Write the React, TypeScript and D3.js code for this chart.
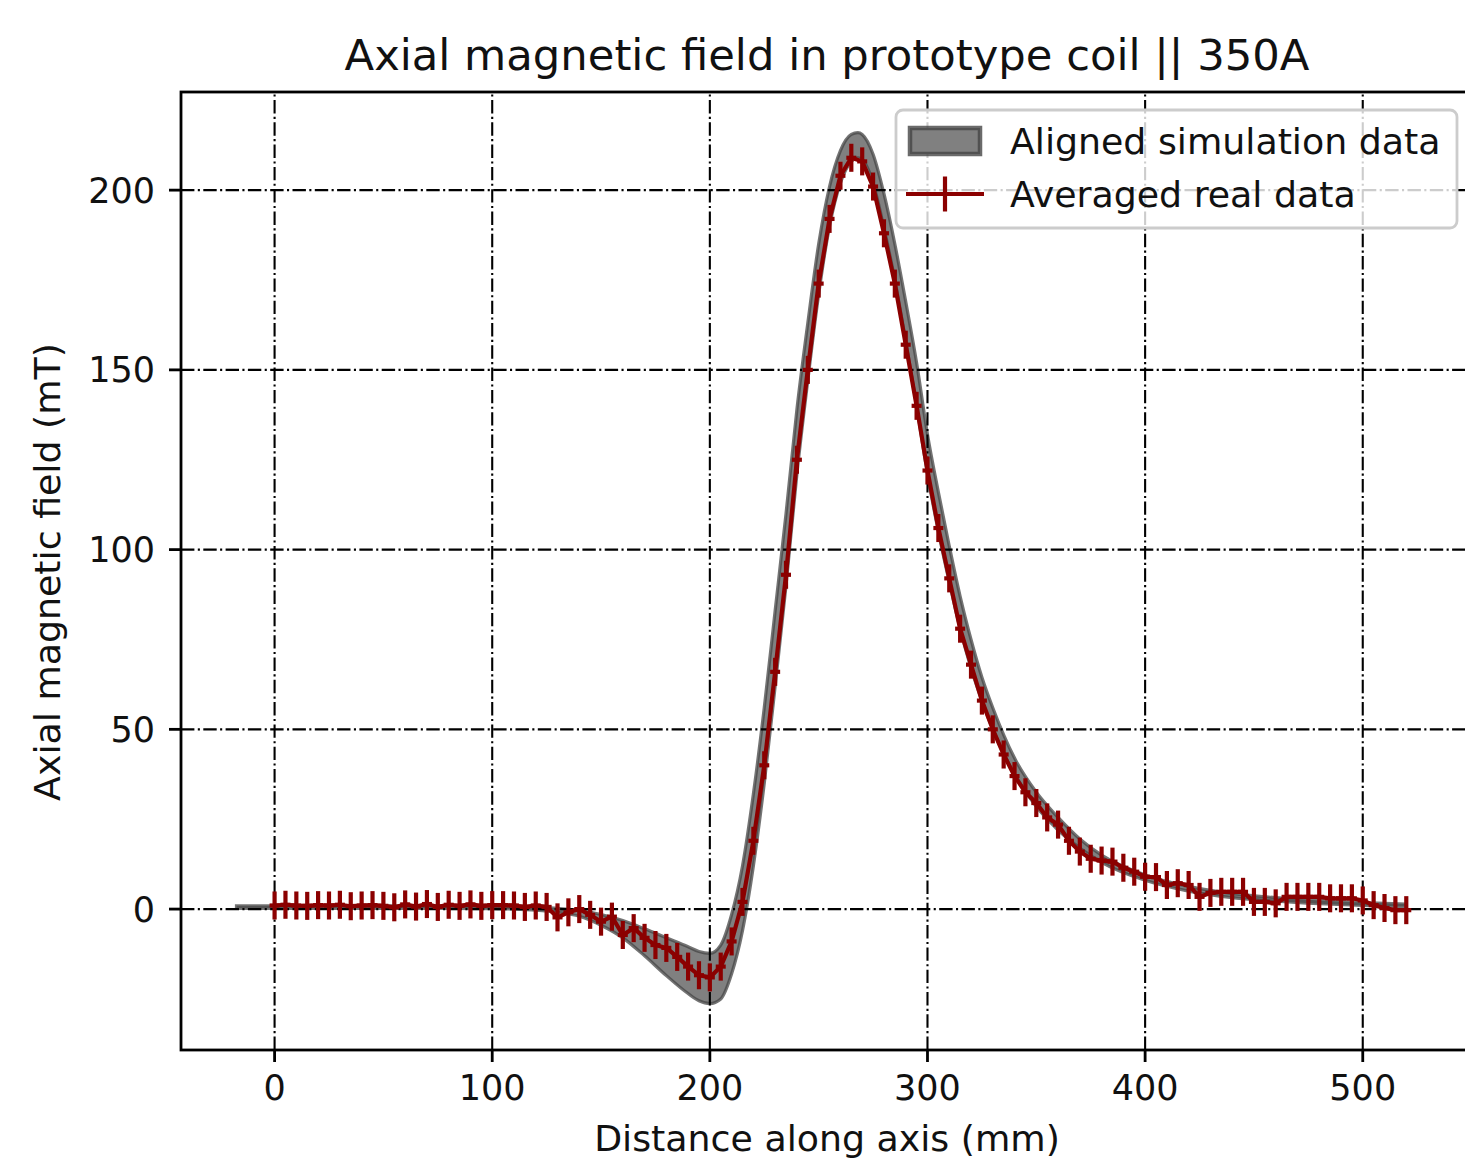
import * as d3 from "d3";

// averaged measurement, one point every 5 mm
const realX = [
  0, 5, 10, 15, 20, 25, 30, 35, 40, 45, 50, 55, 60, 65, 70, 75, 80, 85, 90, 95,
  100, 105, 110, 115, 120, 125, 130, 135, 140, 145, 150, 155, 160, 165, 170, 175, 180, 185, 190, 195,
  200, 205, 210, 215, 220, 225, 230, 235, 240, 245, 250, 255, 260, 265, 270, 275, 280, 285, 290, 295,
  300, 305, 310, 315, 320, 325, 330, 335, 340, 345, 350, 355, 360, 365, 370, 375, 380, 385, 390, 395,
  400, 405, 410, 415, 420, 425, 430, 435, 440, 445, 450, 455, 460, 465, 470, 475, 480, 485, 490, 495,
  500, 505, 510, 515, 520,
];
const realY = [
  1.0, 1.2, 1.0, 0.9, 1.1, 1.0, 1.2, 0.8, 1.0, 1.1, 0.9, 0.5, 1.3, 0.7, 1.4, 0.6, 1.2, 0.9, 1.3, 0.9,
  1.1, 1.1, 1.0, 0.6, 1.0, 0.6, -2.3, -0.9, 0.0, -1.6, -3.5, -2.1, -7.2, -5.3, -8.0, -10.0, -10.8, -13.3, -16.0, -18.4,
  -19.0, -16.0, -9.0, 2.0, 19.0, 40.0, 66.0, 93.0, 125.0, 150.0, 174.0, 192.0, 204.0, 209.0, 208.0, 201.0, 188.0, 174.0, 157.0, 140.0,
  122.0, 106.0, 92.0, 78.0, 68.0, 58.0, 50.0, 43.0, 37.0, 32.5, 29.5, 25.5, 23.5, 19.0, 16.0, 14.0, 13.5, 13.2, 11.5, 10.4,
  9.0, 8.9, 6.7, 7.2, 6.7, 3.4, 4.5, 4.8, 4.8, 4.8, 2.0, 2.0, 1.6, 3.4, 3.4, 3.4, 3.4, 3.0, 3.0, 3.0,
  2.4, 1.1, 0.3, -0.3, -0.3,
];
const yErr = 3.9;
const xErr = 2.3;

// simulation envelope
const simX = [
  -17.5, 0, 25, 50, 75, 100, 110, 120, 130, 140, 150, 160, 170, 180, 190, 195, 200, 205, 210, 215,
  220, 225, 230, 235, 240, 245, 250, 255, 260, 265, 268, 270, 275, 280, 285, 290, 295, 300, 305, 310,
  315, 320, 325, 330, 340, 350, 360, 370, 380, 400, 420, 440, 460, 480, 500, 520,
];
const simLo = [
  0.2, 0.2, 0.2, 0.2, 0.2, 0.1, 0.0, -0.3, -0.9, -2.0, -4.5, -8.0, -13.0, -18.5, -23.5, -25.5, -26.3, -25.0, -18.0, -6,
  12, 35, 62, 90, 121, 147, 171, 190, 202, 208, 209, 208.5, 202, 189.5, 175, 158, 140, 121, 105, 91,
  78, 67, 58, 50, 37.5, 28.5, 22, 17, 13, 8, 5, 3.2, 2.2, 1.5, 1.0, 0.7,
];
const simHi = [
  0.9, 0.9, 0.9, 0.9, 0.9, 0.9, 0.8, 0.6, 0.2, -0.4, -1.5, -3.2, -5.5, -8.0, -10.5, -11.8, -12.3, -10.0, -1.5, 12,
  32, 56, 83, 110, 139, 163, 185, 201, 211, 215.5, 216, 215.5, 210, 199, 185, 169, 152, 132, 116, 101,
  87, 75, 64.5, 56, 42, 32.5, 25.5, 19.5, 15, 9.5, 6.3, 4.3, 3.2, 2.4, 1.8, 1.4,
];

const xTicks = [0, 100, 200, 300, 400, 500];
const yTicks = [0, 50, 100, 150, 200];

const W = 1465;
const H = 1172;
const box = { left: 181, right: 1467, top: 92, bottom: 1050 };
const font = "'DejaVu Sans', sans-serif";
const fs = 35;
const fsLabel = 36.3;
const red = "#8b0000";
const dash = "13.4,3.4,2.1,3.4";
const textCol = "#111";

export default function App() {
  const x = d3.scaleLinear().domain([-43, 547.9]).range([box.left, box.right]);
  const y = d3.scaleLinear().domain([-39.2, 227.3]).range([box.bottom, box.top]);

  const simPts = simX.map((v, i) => ({ x: v, lo: simLo[i], hi: simHi[i] }));
  const band = d3
    .area<any>()
    .x((d) => x(d.x))
    .y0((d) => y(d.lo))
    .y1((d) => y(d.hi))
    .curve(d3.curveMonotoneX)(simPts);

  const realPts = realX.map((v, i) => ({ x: v, y: realY[i] }));
  const line = d3
    .line<any>()
    .x((d) => x(d.x))
    .y((d) => y(d.y))(realPts);

  const cx = (box.left + box.right) / 2 - 2;
  const cy = (box.top + box.bottom) / 2;

  // legend
  const lg = { x: 896, y: 110, w: 561, h: 118 };
  const row1 = 141;
  const row2 = 194;
  const hx0 = 909;
  const hx1 = 981;

  return (
    <svg
      width={W}
      height={H}
      style={{ position: "absolute", left: 0, top: 0, background: "#fff" }}
      fontFamily={font}
    >
      <defs>
        <clipPath id="plotArea">
          <rect x={box.left} y={box.top} width={box.right - box.left} height={box.bottom - box.top} />
        </clipPath>
      </defs>

      <text x={cx + 5} y={70} fontSize={43.3} textAnchor="middle" fill={textCol}>
        Axial magnetic field in prototype coil || 350A
      </text>

      <g clipPath="url(#plotArea)">
        <path d={band || ""} fill="#808080" stroke="#454545" strokeWidth={3.2} strokeOpacity={0.75} />

        {xTicks.map((t) => (
          <line
            key={"gx" + t}
            x1={x(t)}
            x2={x(t)}
            y1={box.bottom}
            y2={box.top}
            stroke="#000"
            strokeWidth={2.1}
            strokeDasharray={dash}
          />
        ))}
        {yTicks.map((t) => (
          <line
            key={"gy" + t}
            x1={box.left}
            x2={box.right}
            y1={y(t)}
            y2={y(t)}
            stroke="#000"
            strokeWidth={2.1}
            strokeDasharray={dash}
          />
        ))}

        <path d={line || ""} fill="none" stroke={red} strokeWidth={4.2} strokeLinejoin="round" />
        {realPts.map((d, i) => (
          <g key={"e" + i} stroke={red} strokeWidth={4.2}>
            <line x1={x(d.x)} x2={x(d.x)} y1={y(d.y - yErr)} y2={y(d.y + yErr)} />
            <line x1={x(d.x - xErr)} x2={x(d.x + xErr)} y1={y(d.y)} y2={y(d.y)} />
          </g>
        ))}
      </g>

      <rect
        x={box.left}
        y={box.top}
        width={box.right - box.left}
        height={box.bottom - box.top}
        fill="none"
        stroke="#000"
        strokeWidth={2.8}
      />

      {xTicks.map((t) => (
        <g key={"xt" + t}>
          <line x1={x(t)} x2={x(t)} y1={box.bottom} y2={box.bottom + 12} stroke="#000" strokeWidth={2.8} />
          <text x={x(t)} y={1100} fontSize={fs} textAnchor="middle" fill={textCol}>
            {t}
          </text>
        </g>
      ))}
      {yTicks.map((t) => (
        <g key={"yt" + t}>
          <line x1={box.left - 12} x2={box.left} y1={y(t)} y2={y(t)} stroke="#000" strokeWidth={2.8} />
          <text x={155} y={y(t)} dy="0.36em" fontSize={fs} textAnchor="end" fill={textCol}>
            {t}
          </text>
        </g>
      ))}

      <text x={cx + 5} y={1151} fontSize={fsLabel} textAnchor="middle" fill={textCol}>
        Distance along axis (mm)
      </text>
      <text
        transform={`translate(60,${cy + 1}) rotate(-90)`}
        fontSize={fsLabel}
        textAnchor="middle"
        fill={textCol}
      >
        Axial magnetic field (mT)
      </text>

      <g>
        <rect
          x={lg.x}
          y={lg.y}
          width={lg.w}
          height={lg.h}
          rx={7}
          fill="#fff"
          fillOpacity={0.8}
          stroke="#cccccc"
          strokeWidth={2.8}
        />
        <rect
          x={hx0 + 1}
          y={row1 - 13}
          width={hx1 - hx0 - 2}
          height={26}
          fill="#808080"
          stroke="#454545"
          strokeWidth={4.5}
          strokeOpacity={0.8}
        />
        <text x={1010} y={row1} dy="0.36em" fontSize={fsLabel} fill={textCol}>
          Aligned simulation data
        </text>
        <line x1={hx0 - 3} x2={hx1 + 3} y1={row2} y2={row2} stroke={red} strokeWidth={4.2} />
        <line
          x1={(hx0 + hx1) / 2}
          x2={(hx0 + hx1) / 2}
          y1={row2 - 17.5}
          y2={row2 + 17.5}
          stroke={red}
          strokeWidth={4.2}
        />
        <text x={1010} y={row2} dy="0.36em" fontSize={fsLabel} fill={textCol}>
          Averaged real data
        </text>
      </g>
    </svg>
  );
}
